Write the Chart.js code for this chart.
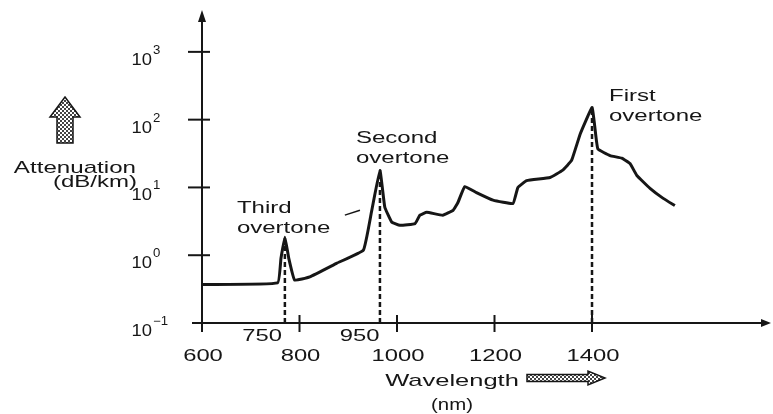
<!DOCTYPE html>
<html>
<head>
<meta charset="utf-8">
<script src="https://cdn.jsdelivr.net/npm/chart.js@4.4.0/dist/chart.umd.min.js"></script>
<style>
    body { margin: 0; background: #fff; }
</style>
</head>
<body>
<canvas id="grafico" width="773" height="414"></canvas>
<script>
// valores
var wavelength = [600, 755, 762, 770, 778, 790, 821, 876, 931, 948,
    965, 975, 989, 1006, 1037, 1047, 1061, 1094, 1115, 1125,
    1139, 1163, 1197, 1238, 1248, 1266, 1314, 1340, 1358, 1376,
    1400, 1405, 1412, 1437, 1461, 1478, 1492, 1519, 1546, 1570];
var attenuation = [0.37, 0.39, 0.9, 1.84, 0.9, 0.43, 0.48, 0.76, 1.19, 4.5,
    17.8, 5.1, 3.1, 2.76, 2.92, 3.9, 4.3, 3.9, 4.6, 6.0,
    10.3, 8.4, 6.5, 5.8, 10, 12.6, 14, 18, 25, 62,
    151, 87, 37, 29.5, 27, 22.5, 15, 9.7, 6.9, 5.4];

var peakWavelength = [770, 965, 1400];
var peakAttenuation = [1.84, 17.8, 151];
var peakNames = [['Third', 'overtone'], ['Second', 'overtone'], ['First', 'overtone']];

var pointerWavelength = [893, 924];
var pointerAttenuation = [3.9, 4.6];

var xTicks = [600, 800, 1000, 1200, 1400];
var xExtraTicks = [750, 950];
var yTicks = [0.1, 1, 10, 100, 1000];
var yExponents = ['\u22121', '0', '1', '2', '3'];

var FUENTE = '"Liberation Sans", Arial, sans-serif';
var TINTA = '#161616';

function puntos(xs, ys) {
    var out = [];
    for (var i in xs) {
        out.push({ x: xs[i], y: ys[i] });
    }
    return out;
}

function texto(ctx, s, x, y, size, k, align) {
    ctx.save();
    ctx.font = size + 'px ' + FUENTE;
    ctx.textAlign = align;
    ctx.textBaseline = 'alphabetic';
    ctx.translate(x, y);
    ctx.scale(k, 1);
    ctx.fillText(s, 0, 0);
    ctx.restore();
}

function linea(ctx, x1, y1, x2, y2) {
    ctx.beginPath();
    ctx.moveTo(x1, y1);
    ctx.lineTo(x2, y2);
    ctx.stroke();
}

function poligono(ctx, pts) {
    ctx.beginPath();
    ctx.moveTo(pts[0][0], pts[0][1]);
    for (var i = 1; i < pts.length; i++) {
        ctx.lineTo(pts[i][0], pts[i][1]);
    }
    ctx.closePath();
}

function patron(ctx) {
    var c = document.createElement('canvas');
    c.width = 4;
    c.height = 4;
    var p = c.getContext('2d');
    p.fillStyle = '#fff';
    p.fillRect(0, 0, 4, 4);
    p.fillStyle = '#444';
    p.fillRect(0, 0, 2, 2);
    p.fillRect(2, 2, 2, 2);
    return ctx.createPattern(c, 'repeat');
}

// desplazamiento de cada rotulo respecto a su pico (px)
var rotuloOffset = [[-48, -24], [-24, -27], [17, -7]];

var ejesPlugin = {
    id: 'ejes',
    afterDraw: function (chart) {
        var ctx = chart.ctx;
        var sx = chart.scales.x;
        var sy = chart.scales.y;
        var area = chart.chartArea;
        var x0 = sx.getPixelForValue(xTicks[0]);
        var y0 = sy.getPixelForValue(yTicks[0]);

        ctx.save();
        ctx.strokeStyle = TINTA;
        ctx.fillStyle = TINTA;
        ctx.lineWidth = 2;

        // eje y con flecha
        linea(ctx, x0, y0 + 9, x0, area.top + 6);
        poligono(ctx, [[x0, area.top - 2], [x0 - 4, area.top + 10], [x0 + 4, area.top + 10]]);
        ctx.fill();

        // eje x con flecha
        linea(ctx, x0 - 10, y0, area.right - 4, y0);
        poligono(ctx, [[area.right + 3, y0], [area.right - 7, y0 - 4], [area.right - 7, y0 + 4]]);
        ctx.fill();

        for (var i in xTicks) {
            var px = sx.getPixelForValue(xTicks[i]);
            linea(ctx, px, y0 - 8, px, y0 + 9);
            texto(ctx, String(xTicks[i]), px + 1, y0 + 38, 17, 1.4, 'center');
        }
        for (var j in xExtraTicks) {
            var pe = sx.getPixelForValue(xExtraTicks[j]);
            texto(ctx, String(xExtraTicks[j]), pe - 13, y0 + 18, 17, 1.4, 'center');
        }

        for (var k in yTicks) {
            var py = sy.getPixelForValue(yTicks[k]);
            if (k > 0) {
                linea(ctx, x0 - 14, py, x0 + 8, py);
            }
            texto(ctx, '10', x0 - 50, py + 13, 16, 1.15, 'right');
            texto(ctx, yExponents[k], x0 - 49, py + 2, 12, 1.1, 'left');
        }

        // rotulos de los picos
        for (var m in peakNames) {
            var bx = sx.getPixelForValue(peakWavelength[m]) + rotuloOffset[m][0];
            var by = sy.getPixelForValue(peakAttenuation[m]) + rotuloOffset[m][1];
            texto(ctx, peakNames[m][0], bx, by, 16, 1.5, 'left');
            texto(ctx, peakNames[m][1], bx, by + 20, 16, 1.5, 'left');
        }

        // titulos de ejes
        texto(ctx, 'Attenuation', 136, 173, 17, 1.42, 'right');
        texto(ctx, '(dB/km)', 137, 187, 16, 1.5, 'right');
        texto(ctx, 'Wavelength', 452, 386, 17, 1.5, 'center');
        texto(ctx, '(nm)', 452, 410, 17, 1.2, 'center');

        // flechas rayadas
        ctx.lineWidth = 1.5;
        ctx.fillStyle = patron(ctx);
        poligono(ctx, [[65, 97], [80, 117], [73, 117], [73, 143], [57, 143], [57, 117], [50, 117]]);
        ctx.fill();
        ctx.stroke();
        poligono(ctx, [[527, 374.5], [588, 374.5], [588, 371], [605, 378], [588, 385], [588, 381.5], [527, 381.5]]);
        ctx.fill();
        ctx.stroke();

        ctx.restore();
    }
};

var datasets = [{
    label: 'Attenuation',
    data: puntos(wavelength, attenuation),
    borderColor: TINTA,
    borderWidth: 3,
    pointRadius: 0,
    tension: 0.1
}];

for (var i in peakWavelength) {
    datasets.push({
        label: peakNames[i].join(' '),
        data: puntos([peakWavelength[i], peakWavelength[i]], [yTicks[0], peakAttenuation[i]]),
        borderColor: TINTA,
        borderWidth: 2.5,
        borderDash: [5, 3],
        pointRadius: 0
    });
}

datasets.push({
    label: 'pointer',
    data: puntos(pointerWavelength, pointerAttenuation),
    borderColor: TINTA,
    borderWidth: 1.5,
    pointRadius: 0
});

new Chart(document.getElementById('grafico'), {
    type: 'line',
    data: { datasets: datasets },
    options: {
        responsive: false,
        animation: false,
        layout: {
            padding: { left: 202, right: 5, top: 12, bottom: 91 }
        },
        plugins: {
            legend: { display: false },
            tooltip: { enabled: false }
        },
        scales: {
            x: { type: 'linear', min: 600, max: 1761, display: false },
            y: { type: 'logarithmic', min: 0.1, max: 3875, display: false }
        }
    },
    plugins: [ejesPlugin]
});
</script>
</body>
</html>
